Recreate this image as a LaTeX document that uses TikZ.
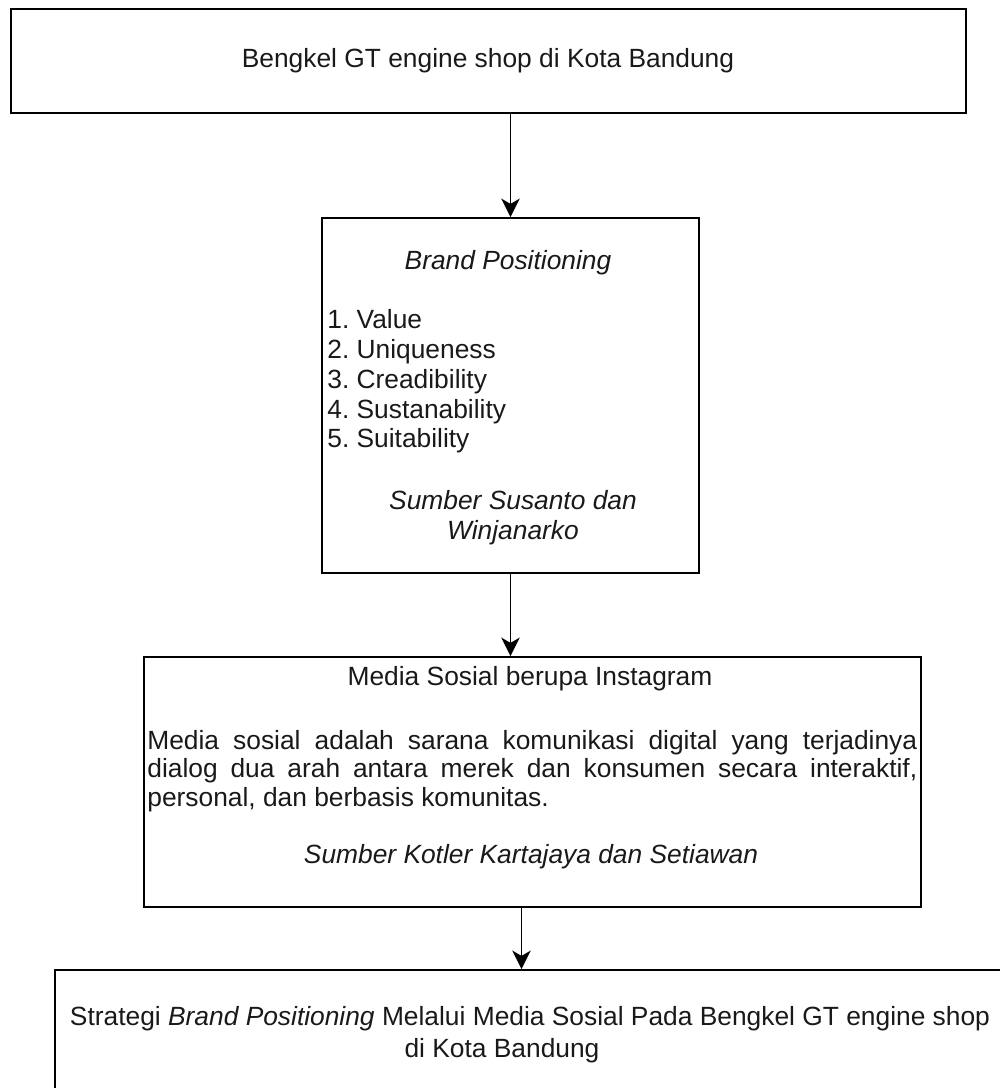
\documentclass[tikz,border=0pt]{standalone}
\usepackage{fontspec}
\setmainfont{Liberation Sans}
\usetikzlibrary{arrows.meta}
\frenchspacing
\newcommand{\boxfont}{\fontsize{15}{17}\selectfont}
\begin{document}
\begin{tikzpicture}[x=0.02cm,y=-0.02cm,
  box/.style={draw, line width=1.1pt, rectangle, inner sep=0pt},
  txt/.style={inner sep=0pt, font=\boxfont, text=black!90},
  flow/.style={line width=1.1pt, -{Stealth[length=10.5pt,width=10.5pt,inset=3pt]}}]
\useasboundingbox (0,0) rectangle (1000,1088);
% boxes
\node[box, minimum width=19.1cm, minimum height=2.08cm](B1)at(488.5,61){};
\node[box, minimum width=7.54cm, minimum height=7.1cm](B2)at(510.5,395.5){};
\node[box, minimum width=15.54cm, minimum height=5cm](B3)at(532.5,782){};
\node[box, minimum width=19.1cm, minimum height=2.6cm](B4)at(532.5,1035){};
% texts
\node[txt, anchor=base](T1)at(488,68){Bengkel GT engine shop di Kota Bandung};
\node[txt, anchor=base](T2)at(508,269){\itshape Brand Positioning};
\node[txt, anchor=north west, align=left, font=\fontsize{15}{17}\selectfont](L2)at(327,309){1. Value\\2. Uniqueness\\3. Creadibility\\4. Sustanability\\5. Suitability};
\node[txt, anchor=north, align=center, font=\fontsize{15}{17}\selectfont\itshape](S2)at(513,490){Sumber Susanto dan\\Winjanarko};
\node[txt, anchor=base](T3)at(530,685){Media Sosial berupa Instagram};
\node[txt, anchor=north west, align=justify, text width=15.4cm, font=\fontsize{15}{16.2}\selectfont](P3)at(147,730){Media sosial adalah sarana komunikasi digital yang terjadinya\linebreak dialog dua arah antara merek dan konsumen secara interaktif,\linebreak personal, dan berbasis komunitas.};
\node[txt, anchor=base](S3)at(531,863){\itshape Sumber Kotler Kartajaya dan Setiawan};
\node[txt, anchor=base](T4)at(530,1025){Strategi \textit{Brand Positioning} Melalui Media Sosial Pada Bengkel GT engine shop};
\node[txt, anchor=base](T4b)at(502,1057){di Kota Bandung};
% arrows
\draw[flow](B1.south -| B2.north)--(B2.north);
\draw[flow](B2.south)--(B2.south |- B3.north);
\draw[flow]([xshift=-0.22cm]B3.south)--([xshift=-0.22cm]B3.south |- B4.north);
\end{tikzpicture}
\end{document}
